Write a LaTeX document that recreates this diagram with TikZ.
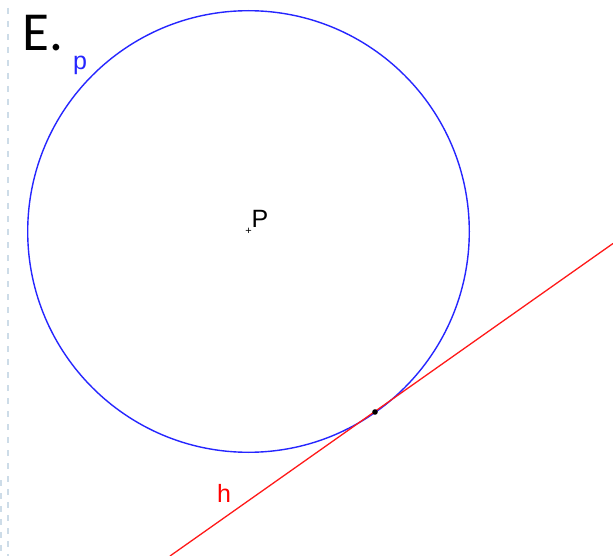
\documentclass[tikz,border=0pt]{standalone}
\usepackage{fontspec}
\setmainfont{Liberation Sans}
\newfontfamily\labelfontE{Carlito}
\definecolor{guidecol}{RGB}{205,220,232}
\begin{document}
\begin{tikzpicture}[x=1pt,y=-1pt,
  guide/.style={draw=guidecol, line width=1.8pt, dash pattern=on 6pt off 7pt},
  circ/.style={draw=blue!85!white, line width=1.4pt},
  tang/.style={draw=red!90!white, line width=1.3pt},
  lbl/.style={font=\fontsize{25}{25}\selectfont, inner sep=0pt}]
\useasboundingbox (0,0) rectangle (613,556);
\fill[white] (0,0) rectangle (613,556);
\draw[guide] (8,8) -- (8,556);
\draw[guide] (0.8,480) -- (0.8,556);
\coordinate (P) at (248.5,231.5);
\draw[circ] (P) circle[radius=220.8];
\coordinate (h1) at (170,556);
\coordinate (h2) at (613,243.5);
\draw[tang] (h1) -- (h2);
\fill (375,412) circle[radius=2.8];
\node[font=\fontsize{11}{11}\selectfont, inner sep=0pt] (cen) at (P) {+};
\node[lbl, anchor=base west] (Plbl) at (251.5,227.5) {P};
\node[lbl, anchor=base west, text=blue!85!white] (plbl) at (73,70) {p};
\node[lbl, anchor=base west, text=red] (hlbl) at (217,502) {h};
\node[font=\fontsize{55}{55}\selectfont\labelfontE, inner sep=0pt, anchor=base west] (E) at (22,50.5) {E.};
\end{tikzpicture}
\end{document}
